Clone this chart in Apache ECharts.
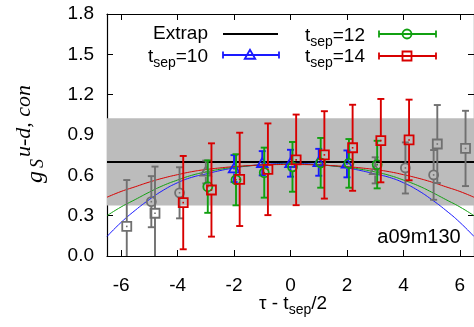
<!DOCTYPE html>
<html><head><meta charset="utf-8">
<script src="https://cdn.jsdelivr.net/npm/echarts@6/dist/echarts.min.js"></script>
<style>html,body{margin:0;padding:0;background:#fff}#c{width:474px;height:327px}</style>
</head><body><div id="c"></div>
<script>
// ---- data ----
const xRange = [-6.5, 6.5];
const yRange = [0, 1.8];
const xTicks = [-6, -4, -2, 0, 2, 4, 6];
const yTicks = [0, 0.3, 0.6, 0.9, 1.2, 1.5, 1.8];
const extrapValue = 0.70;
const bandLow = 0.375;
const bandHigh = 1.025;

const tsep10X = [-2, -1, 0, 1, 2];
const tsep10Y = [0.650, 0.690, 0.690, 0.697, 0.685];
const tsep10Err = [0.100, 0.090, 0.100, 0.100, 0.100];

const tsep12X = [-2.93, -1.93, -0.93, 0.07, 1.07, 2.07, 3.07];
const tsep12Y = [0.516, 0.567, 0.620, 0.663, 0.693, 0.689, 0.680];
const tsep12Err = [0.195, 0.190, 0.186, 0.185, 0.185, 0.181, 0.177];

const tsep14X = [-3.8, -2.8, -1.8, -0.8, 0.2, 1.2, 2.2, 3.2, 4.2];
const tsep14Y = [0.397, 0.491, 0.570, 0.645, 0.715, 0.752, 0.805, 0.858, 0.863];
const tsep14Err = [0.347, 0.347, 0.347, 0.341, 0.337, 0.325, 0.320, 0.310, 0.300];

const gray10X = [-3, 3];
const gray10Y = [0.625, 0.637];
const gray10Err = [0.085, 0.097];

const gray12X = [-4.93, -3.93, 4.07, 5.07];
const gray12Y = [0.404, 0.470, 0.655, 0.603];
const gray12Err = [0.190, 0.190, 0.190, 0.185];

const gray14X = [-5.8, -4.8, 5.2, 6.2];
const gray14Y = [0.220, 0.318, 0.833, 0.800];
const gray14Err = [0.345, 0.347, 0.290, 0.280];

const curveX = [-6.5, -6, -5.5, -5, -4.5, -4, -3.5, -3, -2.5, -2, -1.5, -1, -0.5, 0,
                0.5, 1, 1.5, 2, 2.5, 3, 3.5, 4, 4.5, 5, 5.5, 6, 6.5];
const fit10Y = [0.145, 0.250, 0.340, 0.420, 0.490, 0.545, 0.585, 0.610, 0.635, 0.655, 0.670, 0.680, 0.687, 0.690,
                0.687, 0.680, 0.670, 0.655, 0.635, 0.610, 0.585, 0.545, 0.490, 0.420, 0.340, 0.250, 0.145];
const fit12Y = [0.300, 0.365, 0.420, 0.475, 0.525, 0.565, 0.600, 0.625, 0.645, 0.660, 0.670, 0.677, 0.682, 0.684,
                0.682, 0.677, 0.670, 0.660, 0.645, 0.625, 0.600, 0.565, 0.525, 0.475, 0.420, 0.365, 0.300];
const fit14Y = [0.437, 0.480, 0.515, 0.550, 0.580, 0.605, 0.627, 0.643, 0.655, 0.665, 0.672, 0.677, 0.680, 0.681,
                0.680, 0.677, 0.672, 0.665, 0.655, 0.643, 0.627, 0.605, 0.580, 0.550, 0.515, 0.480, 0.437];

const ensembleLabel = 'a09m130';

// ---- styles ----
const BLUE = '#1a1aff', GREEN = '#11a011', RED = '#d80000', GRAY = '#707070';
const SANS = '"Liberation Sans", Arial, sans-serif';
const SERIF = '"Liberation Serif", "Times New Roman", serif';

function zip3(xs, ys, es) { return xs.map((x, i) => [x, ys[i], es[i]]); }
function zip2(xs, ys) { return xs.map((x, i) => [x, ys[i]]); }

function markerShape(symbol, cx, cy, h, color) {
  const st = { fill: 'none', stroke: color, lineWidth: 1.8 };
  if (symbol === 'square') return { type: 'rect', shape: { x: cx - h, y: cy - h, width: 2 * h, height: 2 * h }, style: st };
  if (symbol === 'circle') return { type: 'circle', shape: { cx: cx, cy: cy, r: h }, style: st };
  return { type: 'polygon', shape: { points: [[cx, cy - h * 1.05], [cx - h * 1.05, cy + h * 0.75], [cx + h * 1.05, cy + h * 0.75]] }, style: st };
}

function errSeries(name, data, color, symbol, size) {
  return {
    type: 'custom', name: name, data: data, clip: true, z: 3,
    renderItem: function (params, api) {
      const x = api.value(0), y = api.value(1), e = api.value(2);
      const c = api.coord([x, y]);
      const lo = api.coord([x, y - e]);
      const hi = api.coord([x, y + e]);
      const h = size / 2, cap = 3.5;
      const ls = { stroke: color, lineWidth: 1.9 };
      const ch = [];
      if (hi[1] < c[1] - h) ch.push({ type: 'line', shape: { x1: c[0], y1: hi[1], x2: c[0], y2: c[1] - h }, style: ls });
      if (lo[1] > c[1] + h) ch.push({ type: 'line', shape: { x1: c[0], y1: c[1] + h, x2: c[0], y2: lo[1] }, style: ls });
      ch.push({ type: 'line', shape: { x1: c[0] - cap, y1: hi[1], x2: c[0] + cap, y2: hi[1] }, style: ls });
      ch.push({ type: 'line', shape: { x1: c[0] - cap, y1: lo[1], x2: c[0] + cap, y2: lo[1] }, style: ls });
      ch.push(markerShape(symbol, c[0], c[1], h, color));
      ch.push({ type: 'rect', shape: { x: c[0] - 0.8, y: c[1] - 0.8, width: 1.6, height: 1.6 }, style: { fill: color } });
      return { type: 'group', children: ch };
    }
  };
}

function curveSeries(ys, color) {
  return { type: 'line', data: zip2(curveX, ys), smooth: true, symbol: 'none', z: 2,
    lineStyle: { color: color, width: 1 }, silent: true };
}

const subRich = {
  m: { fontSize: 19, fontFamily: SANS, color: '#000' },
  s: { fontSize: 14, fontFamily: SANS, color: '#000', padding: [12, 0, 0, 0] }
};

function legendSample(x1, x2, y, color, symbol, sx, size) {
  const ls = { stroke: color, lineWidth: 1.8 };
  const h = size / 2;
  return [
    { type: 'line', shape: { x1: x1, y1: y, x2: x2, y2: y }, style: ls },
    { type: 'line', shape: { x1: x1, y1: y - 3.5, x2: x1, y2: y + 3.5 }, style: ls },
    { type: 'line', shape: { x1: x2, y1: y - 3.5, x2: x2, y2: y + 3.5 }, style: ls },
    Object.assign(markerShape(symbol, sx, y, h, color), { z: 10 })
  ];
}

const chart = echarts.init(document.getElementById('c'), null, { renderer: 'canvas' });

const axisCommon = {
  axisLine: { show: true, onZero: false, lineStyle: { color: '#000', width: 1.2 } },
  axisTick: { show: true, inside: true, length: 6, lineStyle: { color: '#000', width: 1 } },
  splitLine: { show: false }
};

const option = {
  animation: false,
  backgroundColor: '#fff',
  grid: { left: 107, top: 14, width: 368, height: 242, containLabel: false },
  xAxis: [
    Object.assign({ type: 'value', min: xRange[0], max: xRange[1], position: 'bottom',
      axisLabel: { customValues: xTicks, margin: 20, fontSize: 19, fontFamily: SANS, color: '#000',
        formatter: v => String(v) } }, axisCommon,
      { axisTick: Object.assign({}, axisCommon.axisTick, { customValues: xTicks }) }),
    Object.assign({ type: 'value', min: xRange[0], max: xRange[1], position: 'top',
      axisLabel: { show: false } }, axisCommon,
      { axisTick: Object.assign({}, axisCommon.axisTick, { customValues: xTicks }) })
  ],
  yAxis: [
    Object.assign({ type: 'value', min: yRange[0], max: yRange[1], interval: 0.3, position: 'left',
      axisLabel: { margin: 13, fontSize: 19, fontFamily: SANS, color: '#000', formatter: v => v.toFixed(1) } }, axisCommon),
    Object.assign({ type: 'value', min: yRange[0], max: yRange[1], interval: 0.3, position: 'right',
      axisLabel: { show: false } }, axisCommon)
  ],
  series: [
    { type: 'line', data: [], z: 0, silent: true,
      markArea: { silent: true, itemStyle: { color: '#bcbcbc' },
        data: [[{ yAxis: bandLow }, { yAxis: bandHigh }]] } },
    { type: 'line', data: zip2(xRange, [extrapValue, extrapValue]), symbol: 'none', z: 1,
      lineStyle: { color: '#000', width: 2 }, silent: true },
    errSeries('g10', zip3(gray10X, gray10Y, gray10Err), GRAY, 'triangle', 10),
    errSeries('g12', zip3(gray12X, gray12Y, gray12Err), GRAY, 'circle', 9),
    errSeries('g14', zip3(gray14X, gray14Y, gray14Err), GRAY, 'square', 9),
    curveSeries(fit10Y, BLUE),
    curveSeries(fit12Y, GREEN),
    curveSeries(fit14Y, RED),
    errSeries('tsep10', zip3(tsep10X, tsep10Y, tsep10Err), BLUE, 'triangle', 10),
    errSeries('tsep12', zip3(tsep12X, tsep12Y, tsep12Err), GREEN, 'circle', 9),
    errSeries('tsep14', zip3(tsep14X, tsep14Y, tsep14Err), RED, 'square', 9)
  ],
  graphic: [
    // legend
    { type: 'text', x: 208, y: 34, style: { text: 'Extrap', fontSize: 19, fontFamily: SANS, fill: '#000', align: 'right', verticalAlign: 'middle' } },
    { type: 'line', shape: { x1: 223, y1: 34, x2: 278, y2: 34 }, style: { stroke: '#000', lineWidth: 2 } },
    { type: 'text', x: 365, y: 36, style: { text: '{m|t}{s|sep}{m|=12}', rich: subRich, align: 'right', verticalAlign: 'middle' } },
    ...legendSample(379, 436, 34, GREEN, 'circle', 407, 9),
    { type: 'text', x: 208, y: 57, style: { text: '{m|t}{s|sep}{m|=10}', rich: subRich, align: 'right', verticalAlign: 'middle' } },
    ...legendSample(223, 279, 55, BLUE, 'triangle', 250, 10),
    { type: 'text', x: 365, y: 57, style: { text: '{m|t}{s|sep}{m|=14}', rich: subRich, align: 'right', verticalAlign: 'middle' } },
    ...legendSample(379, 436, 56, RED, 'square', 407, 9),
    // ensemble label
    { type: 'text', x: 419, y: 237, style: { text: ensembleLabel, fontSize: 20, fontFamily: SANS, fill: '#000', align: 'center', verticalAlign: 'middle' } },
    // x axis title
    { type: 'text', x: 293, y: 304, style: { text: '{m|τ - t}{s|sep}{m|/2}', rich: subRich, align: 'center', verticalAlign: 'middle' } },
    // y axis title (each piece rotated about its own anchor)
    { type: 'text', x: 48, y: 183, rotation: Math.PI / 2,
      style: { text: 'g', fontSize: 24, fontStyle: 'italic', fontFamily: SERIF, fill: '#000', align: 'left', verticalAlign: 'bottom' } },
    { type: 'text', x: 47, y: 168, rotation: Math.PI / 2,
      style: { text: 'S', fontSize: 18, fontStyle: 'italic', fontFamily: SERIF, fill: '#000', align: 'left', verticalAlign: 'bottom' } },
    { type: 'text', x: 35, y: 157, rotation: Math.PI / 2,
      style: { text: 'u-d, con', fontSize: 22, fontStyle: 'italic', fontFamily: SERIF, fill: '#000', align: 'left', verticalAlign: 'bottom' } }
  ]
};
chart.setOption(option);
</script></body></html>
